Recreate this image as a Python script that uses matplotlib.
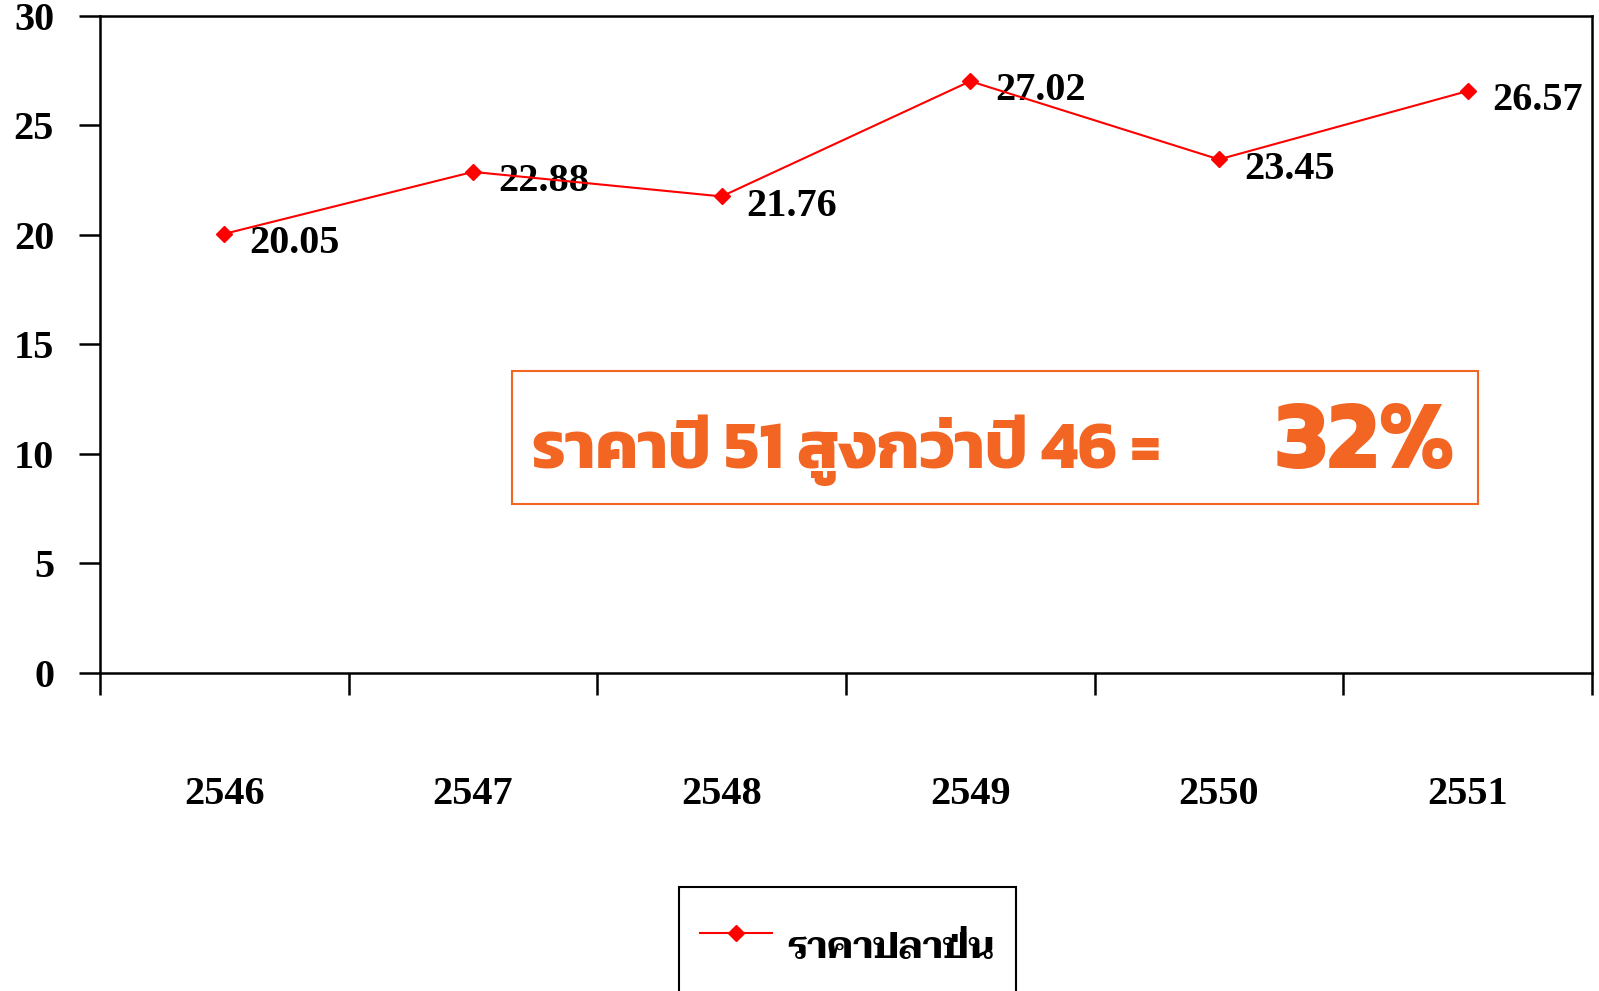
import matplotlib
matplotlib.use("Agg")
import matplotlib.pyplot as plt
from matplotlib import font_manager
from matplotlib.ft2font import FT2Font
from matplotlib.patches import Rectangle

# data
years = ["2546", "2547", "2548", "2549", "2550", "2551"]
prices = [20.05, 22.88, 21.76, 27.02, 23.45, 26.57]
y_ticks = [0, 5, 10, 15, 20, 25, 30]
series_name = "ราคาปลาป่น"
note_text = "ราคาปี 51 สูงกว่าปี 46 ="
note_pct = "32%"

orange = "#F26522"
W, H = 1599, 991

# look for fonts that really have thai letters in them
thai_fonts = {}
for f in font_manager.fontManager.ttflist:
    try:
        cmap = FT2Font(f.fname).get_charmap()
    except Exception:
        continue
    if 0x0E23 in cmap and 0x0E1B in cmap and 0x0E48 in cmap:
        thai_fonts.setdefault(f.name, set()).add(f.weight)


def pick(prefs):
    # first one that has a bold face, then any one that exists
    for p in prefs:
        if p in thai_fonts and any(isinstance(w, int) and w >= 600 for w in thai_fonts[p]):
            return p
    for p in prefs:
        if p in thai_fonts:
            return p
    return sorted(thai_fonts)[0] if thai_fonts else "DejaVu Sans"


sans_thai = pick(["Kanit", "Prompt", "Mitr", "Bai Jamjuree", "Chakra Petch", "Athiti",
                  "Noto Sans Thai", "Anuphan"])
serif_thai = pick(["Taviraj", "Trirong", "Maitree", "Pridi", "Noto Serif Thai", "Sarabun",
                   "Krub", "Niramit", "K2D", "Thasadith", "Kanit"])

plt.rcParams['font.family'] = ['Liberation Serif', 'DejaVu Serif']
plt.rcParams['font.weight'] = 'bold'

fig = plt.figure(figsize=(W / 100, H / 100), dpi=100)
ax = fig.add_axes([0.0625, 0.3209, 0.9331, 0.6630])

xs = [i + 0.5 for i in range(len(years))]
line, = ax.plot(xs, prices, color="red", lw=1.5, marker="D", ms=8, mec="red",
                label=series_name, zorder=3)

for x, v in zip(xs, prices):
    ax.annotate(f"{v:.2f}", (x, v), xytext=(18, -7), textcoords="offset points",
                ha="left", va="center", fontsize=29, fontweight="bold", zorder=1)

ax.set_xlim(0, 6)
ax.set_ylim(0, 30)
ax.set_yticks(y_ticks)
ax.set_yticklabels([str(t) for t in y_ticks], fontsize=29, fontweight="bold")
ax.set_xticks(range(7))
ax.set_xticklabels([])
ax.set_xticks(xs, minor=True)
ax.set_xticklabels(years, minor=True, fontsize=29, fontweight="bold")
ax.tick_params(axis="x", which="major", direction="out", length=16, width=1.8)
ax.tick_params(axis="x", which="minor", length=0, pad=74)
ax.tick_params(axis="y", direction="out", length=15, width=1.8, pad=18)
for s in ax.spines.values():
    s.set_linewidth(1.8)
    s.set_color("black")

# orange note box
ax.add_patch(Rectangle((0.2761, 0.2572), 0.9236 - 0.2761, 0.4597 - 0.2572,
                       transform=ax.transAxes, fill=False, ec=orange, lw=1.5))

fig.canvas.draw()
r = fig.canvas.get_renderer()


def extent(txt, **kw):
    t = fig.text(0, 0, txt, **kw)
    e = t.get_window_extent(r)
    t.remove()
    return e


fam_sans = [sans_thai, "DejaVu Sans"]
fam_serif = [serif_thai, "DejaVu Serif"]

s1 = 40 * 709 / extent(note_text, family=fam_sans, fontweight="bold", fontsize=40).width
s2 = 67 * 181 / extent(note_pct, family=fam_sans, fontweight="bold", fontsize=67).width
s1 = min(s1, 48)
s2 = min(s2, 72)
ax.text((532 - 100) / 1492, (673 - 468) / 657, note_text, transform=ax.transAxes,
        family=fam_sans, fontweight="bold", fontsize=s1, color=orange,
        ha="left", va="baseline")
ax.text((1455 - 100) / 1492, (673 - 468) / 657, note_pct, transform=ax.transAxes,
        family=fam_sans, fontweight="bold", fontsize=s2, color=orange,
        ha="right", va="baseline")

lkw = dict(family=fam_serif, fontweight="bold")
lf = 30 * 207 / extent(series_name, fontsize=30, **lkw).width
hh = (56 - 0.245 * lf) / (0.65 * lf)
leg = fig.legend(handles=[line], loc="upper left",
                 bbox_to_anchor=(679 / W, 1 - 887 / H), bbox_transform=fig.transFigure,
                 borderaxespad=0, prop={"family": fam_serif, "weight": "bold", "size": lf},
                 handlelength=51.8 / lf, handletextpad=11.5 / lf, borderpad=15 / lf,
                 handleheight=hh, fancybox=False, framealpha=1)
leg.get_frame().set_edgecolor("black")
leg.get_frame().set_linewidth(1.5)

# no thai shaping in matplotlib: the tone mark over the last "ป" falls inside
# its tall stem, so draw it again a bit to the left, over the bowl.
# a space in front gives the mark something to sit on; zorder above the legend.
fig.canvas.draw()
bb = leg.get_texts()[0].get_window_extent(r)
w_pre = extent("ราคาปลา", fontsize=lf, **lkw).width
w_p = extent("ราคาปลาป", fontsize=lf, **lkw).width - w_pre
fig.text((bb.x0 + w_pre + 0.62 * w_p) / W, bb.y0 / H, " \u0E48", fontsize=lf,
         ha="right", va="baseline", zorder=6, **lkw)

fig.savefig("out.png", dpi=100)
